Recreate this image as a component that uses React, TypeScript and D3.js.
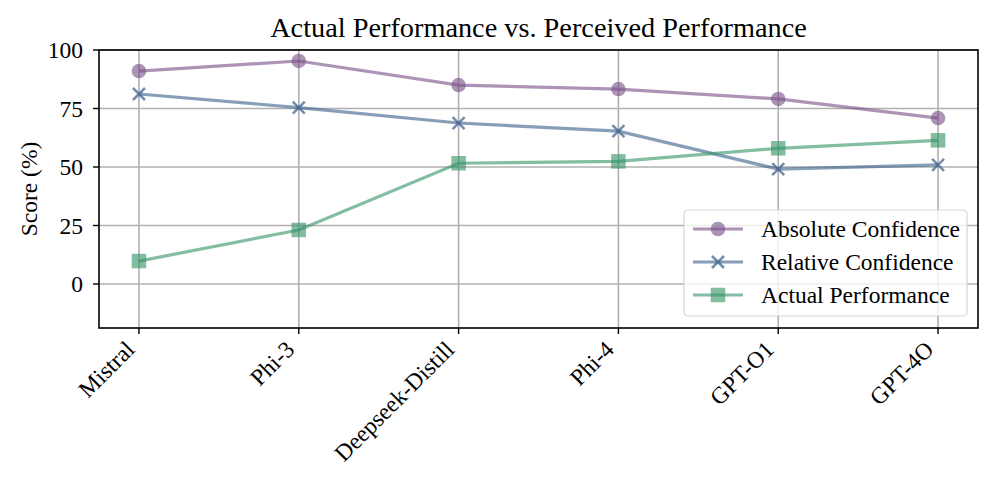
import { scaleLinear } from 'd3'
import { line as d3Line } from 'd3'

const WIDTH = 996
const HEIGHT = 489
const MARGIN = { top: 50, right: 18, bottom: 161, left: 99 }
const INNER_WIDTH = WIDTH - MARGIN.left - MARGIN.right
const INNER_HEIGHT = HEIGHT - MARGIN.top - MARGIN.bottom

const models = ['Mistral', 'Phi-3', 'Deepseek-Distill', 'Phi-4', 'GPT-O1', 'GPT-4O']
const absoluteConfidence = [91.0, 95.3, 85.0, 83.3, 79.1, 70.9]
const relativeConfidence = [81.2, 75.4, 68.8, 65.3, 49.1, 50.9]
const actualPerformance = [9.8, 23.1, 51.6, 52.4, 58.0, 61.4]
const yTicks = [0, 25, 50, 75, 100]

const series = [
  { key: 'Absolute Confidence', values: absoluteConfidence, color: '#7b5389', marker: 'circle' },
  { key: 'Relative Confidence', values: relativeConfidence, color: '#3e628d', marker: 'x' },
  { key: 'Actual Performance', values: actualPerformance, color: '#379469', marker: 'square' },
]

const FONT = '"Liberation Serif", "Times New Roman", serif'
const ALPHA = 0.62
const LABEL_SIZE = 23.5

function Marker({ kind, cx, cy, color }: { kind: string; cx: number; cy: number; color: string }) {
  if (kind === 'circle') {
    return <circle cx={cx} cy={cy} r={6.5} fill={color} stroke={color} strokeWidth={1.5} opacity={ALPHA} />
  }
  if (kind === 'square') {
    return <rect x={cx - 6.5} y={cy - 6.5} width={13} height={13} fill={color} stroke={color} strokeWidth={1.5} opacity={ALPHA} />
  }
  const s = 6
  return (
    <path
      d={`M${cx - s},${cy - s}L${cx + s},${cy + s}M${cx - s},${cy + s}L${cx + s},${cy - s}`}
      stroke={color}
      strokeWidth={2.5}
      opacity={ALPHA + 0.1}
    />
  )
}

export default function App() {
  const x = scaleLinear().domain([-0.25, models.length - 0.75]).range([0, INNER_WIDTH])
  const y = scaleLinear().domain([-18.8, 100]).range([INNER_HEIGHT, 0])
  const path = d3Line<number>()
    .x((_, i) => x(i))
    .y((d) => y(d))

  return (
    <svg
      width={WIDTH}
      height={HEIGHT}
      style={{ position: 'absolute', left: 0, top: 0, background: '#fff' }}
      fontFamily={FONT}
    >
      <text x={MARGIN.left + INNER_WIDTH / 2} y={37} textAnchor="middle" fontSize={28.3}>
        Actual Performance vs. Perceived Performance
      </text>
      <g transform={`translate(${MARGIN.left},${MARGIN.top})`}>
        {yTicks.map((t) => (
          <line key={t} x1={0} x2={INNER_WIDTH} y1={y(t)} y2={y(t)} stroke="#b0b0b0" strokeWidth={1.6} />
        ))}
        {models.map((m, i) => (
          <line key={m} x1={x(i)} x2={x(i)} y1={0} y2={INNER_HEIGHT} stroke="#b0b0b0" strokeWidth={1.6} />
        ))}
        {series.map((s) => (
          <g key={s.key}>
            <path d={path(s.values) ?? undefined} fill="none" stroke={s.color} strokeWidth={3.2} opacity={ALPHA} />
            {s.values.map((v, i) => (
              <Marker key={i} kind={s.marker} cx={x(i)} cy={y(v)} color={s.color} />
            ))}
          </g>
        ))}
        <rect x={0} y={0} width={INNER_WIDTH} height={INNER_HEIGHT} fill="none" stroke="#000" strokeWidth={1.6} />
        {yTicks.map((t) => (
          <g key={t} transform={`translate(0,${y(t)})`}>
            <line x1={-6} x2={0} stroke="#000" strokeWidth={1.4} />
            <text x={-16} dy="0.35em" textAnchor="end" fontSize={LABEL_SIZE}>
              {t}
            </text>
          </g>
        ))}
        {models.map((m, i) => (
          <g key={m} transform={`translate(${x(i)},${INNER_HEIGHT})`}>
            <line y1={0} y2={6} stroke="#000" strokeWidth={1.4} />
            <text transform="translate(-3,23) rotate(-45)" textAnchor="end" fontSize={LABEL_SIZE}>
              {m}
            </text>
          </g>
        ))}
        <text transform={`translate(-62,${INNER_HEIGHT / 2}) rotate(-90)`} textAnchor="middle" fontSize={LABEL_SIZE}>
          Score (%)
        </text>
        <g transform={`translate(${INNER_WIDTH - 294},${160})`}>
          <rect x={0} y={0} width={283} height={106} rx={4} fill="#fff" fillOpacity={0.8} stroke="#d6d6d6" strokeWidth={1.2} />
          {series.map((s, i) => (
            <g key={s.key} transform={`translate(0,${19 + i * 33})`}>
              <line x1={9} x2={59} stroke={s.color} strokeWidth={3.2} opacity={ALPHA} />
              <Marker kind={s.marker} cx={34} cy={0} color={s.color} />
              <text x={77} dy="0.35em" fontSize={LABEL_SIZE}>
                {s.key}
              </text>
            </g>
          ))}
        </g>
      </g>
    </svg>
  )
}
